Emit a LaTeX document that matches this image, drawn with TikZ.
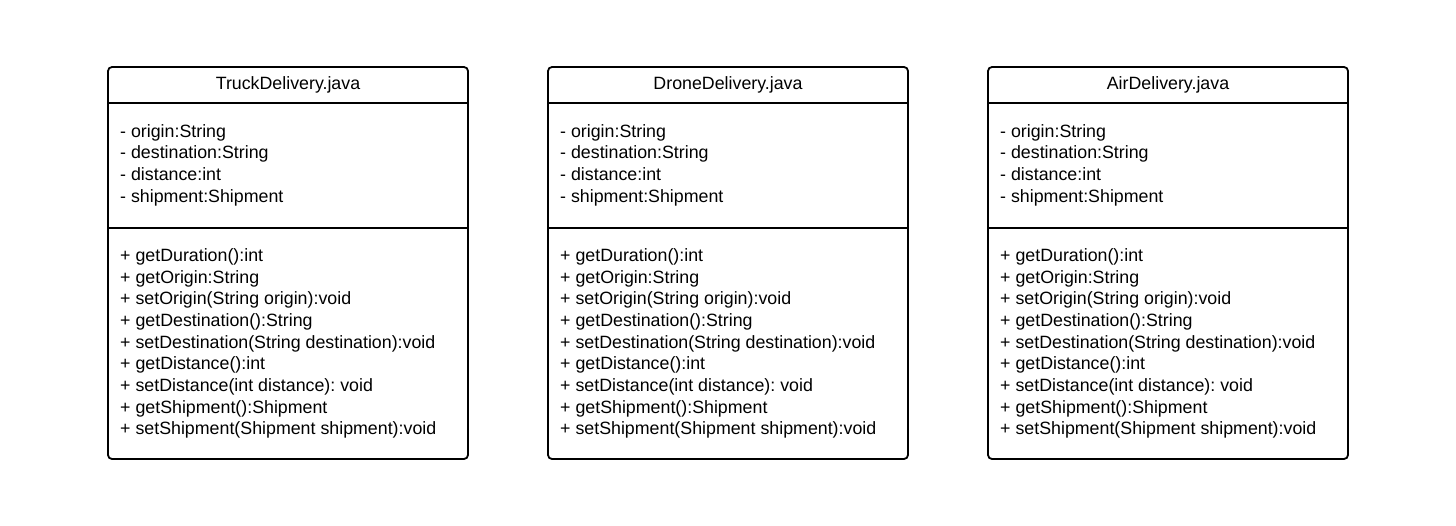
\documentclass[tikz,border=0pt]{standalone}
\usepackage{fontspec}
\setmainfont{Liberation Sans}
\begin{document}
\frenchspacing
\begin{tikzpicture}[x=1pt,y=-1pt,
  umlbox/.style={draw=black,line width=1.8pt,rounded corners=4pt},
  divider/.style={draw=black,line width=1.8pt},
  txt/.style={inner sep=0pt,anchor=base west,font=\fontsize{17.8}{21}\selectfont},
  ttl/.style={inner sep=0pt,anchor=base,font=\fontsize{17.8}{21}\selectfont}]
\useasboundingbox[fill=white] (0,0) rectangle (1456,525);
\foreach \i/\x/\name in {1/108/TruckDelivery.java,2/548/DroneDelivery.java,3/988/AirDelivery.java}{
  \draw[umlbox] (\x,67) rectangle ++(360,392);
  \coordinate (h\i l) at (\x,103);
  \coordinate (h\i r) at (\x+360,103);
  \coordinate (m\i l) at (\x,228);
  \coordinate (m\i r) at (\x+360,228);
  \draw[divider] (h\i l) -- (h\i r);
  \draw[divider] (m\i l) -- (m\i r);
  \node[ttl] (title\i) at (\x+180,89) {\name};
  \foreach \t [count=\k] in {- origin:String,- destination:String,- distance:int,- shipment:Shipment}{
    \node[txt] (a\i-\k) at (\x+12,137+21.7*\k-21.7) {\t};
  }
  \foreach \t [count=\k] in {+ getDuration():int,+ getOrigin:String,+ setOrigin(String origin):void,+ getDestination():String,+ setDestination(String destination):void,+ getDistance():int,+ setDistance(int distance): void,+ getShipment():Shipment,+ setShipment(Shipment shipment):void}{
    \node[txt] (o\i-\k) at (\x+12,261.5+21.65*\k-21.65) {\t};
  }
}
\end{tikzpicture}
\end{document}
